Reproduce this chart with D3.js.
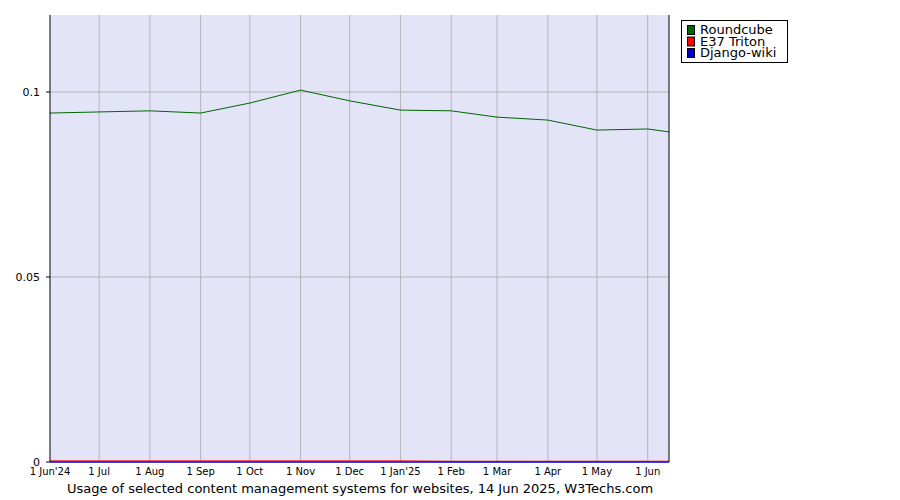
<html>
<head>
<meta charset="utf-8">
<script src="https://d3js.org/d3.v7.min.js"></script>
<style>body{margin:0;background:#fff}</style>
</head>
<body>
<svg width="900" height="500"></svg>
<script>
var dates = ["2024-06-01","2024-07-01","2024-08-01","2024-09-01","2024-10-01","2024-11-01","2024-12-01","2025-01-01","2025-02-01","2025-03-01","2025-04-01","2025-05-01","2025-06-01","2025-06-14"];
var roundcube = [0.0943,0.0946,0.0949,0.0943,0.0970,0.1005,0.0976,0.0951,0.0949,0.0932,0.0924,0.0897,0.0900,0.0892];
var e37triton = [0.0003,0.0003,0.0003,0.0003,0.0003,0.0003,0.0003,0.0003,0.0002,0.0002,0.0002,0.0002,0.0002,0.0002];
var djangowiki = [0,0,0,0,0,0,0,0,0,0,0,0,0,0];
var tickDates = dates.slice(0,13);
var tickLabels = ["1 Jun'24","1 Jul","1 Aug","1 Sep","1 Oct","1 Nov","1 Dec","1 Jan'25","1 Feb","1 Mar","1 Apr","1 May","1 Jun"];
var yTicks = [0,0.05,0.1];
var names = ["Roundcube","E37 Triton","Django-wiki"];
var colors = ["#006400","#ff0000","#0000cc"];

var parse = d3.timeParse("%Y-%m-%d");
var svg = d3.select("svg");
var pL = 50, pR = 669, pT = 15, pB = 462;
var x = d3.scaleTime().domain([parse(dates[0]), parse(dates[dates.length-1])]).range([pL, pR]);
var y = d3.scaleLinear().domain([0, 0.1208]).range([pB, pT]);
var font = "Verdana, 'DejaVu Sans', sans-serif";

svg.append("rect").attr("x",pL).attr("y",pT).attr("width",pR-pL).attr("height",pB-pT).attr("fill","#e4e4f8");

svg.selectAll(".vg").data(tickDates.slice(1)).enter().append("line")
  .attr("x1",d=>x(parse(d))).attr("x2",d=>x(parse(d))).attr("y1",pT).attr("y2",pB)
  .attr("stroke","#b4b4b4");
svg.selectAll(".hg").data(yTicks.slice(1)).enter().append("line")
  .attr("x1",pL).attr("x2",pR).attr("y1",d=>y(d)).attr("y2",d=>y(d)).attr("stroke","#b4b4b4");

svg.selectAll(".xl").data(tickDates).enter().append("text")
  .attr("x",d=>x(parse(d))).attr("y",pB+13).attr("text-anchor","middle")
  .style("font","10px "+font).text((d,i)=>tickLabels[i]);
svg.selectAll(".yl").data(yTicks).enter().append("text")
  .attr("x",pL-10).attr("y",d=>y(d)+4).attr("text-anchor","end")
  .style("font","11px "+font).text(d=>d===0?"0":d);
svg.selectAll(".yt").data(yTicks).enter().append("line")
  .attr("x1",pL-4).attr("x2",pL).attr("y1",d=>y(d)).attr("y2",d=>y(d)).attr("stroke","#000");

var series = [roundcube, e37triton, djangowiki];
var line = d3.line().x((d,i)=>x(parse(dates[i]))).y(d=>y(d));
[2,1,0].forEach(function(k){
  svg.append("path").datum(series[k]).attr("d",line).attr("fill","none")
    .attr("stroke",colors[k]).attr("stroke-width",1);
});

svg.append("line").attr("x1",pL).attr("x2",pL).attr("y1",pT).attr("y2",pB).attr("stroke","#000");
svg.append("line").attr("x1",pR).attr("x2",pR).attr("y1",pT).attr("y2",pB).attr("stroke","#000");
svg.append("line").attr("x1",pL).attr("x2",pR).attr("y1",pB).attr("y2",pB).attr("stroke","#0000cc");

var lg = svg.append("g").attr("transform","translate(681,20)");
lg.append("rect").attr("x",0.5).attr("y",0.5).attr("width",106).attr("height",42).attr("fill","#fff").attr("stroke","#000");
names.forEach(function(n,i){
  lg.append("rect").attr("x",6.5).attr("y",5.5+i*11.5).attr("width",7).attr("height",9).attr("fill",colors[i]).attr("stroke","#000");
  lg.append("text").attr("x",19).attr("y",14+i*11.5).style("font","13px "+font).text(n);
});

svg.append("text").attr("x",360).attr("y",493).attr("text-anchor","middle")
  .style("font","13px "+font).text("Usage of selected content management systems for websites, 14 Jun 2025, W3Techs.com");
</script>
</body>
</html>
